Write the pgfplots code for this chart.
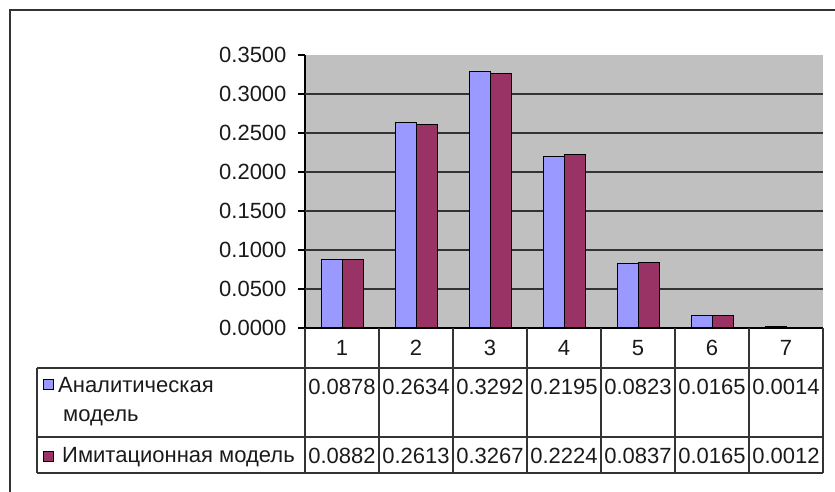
\documentclass[border=0pt]{standalone}
\usepackage{pgfplots}
\usepackage{pgfplotstable}
\pgfplotsset{compat=1.18}
\usepackage{fontspec}
\setmainfont{Liberation Sans}
\definecolor{serA}{HTML}{9999FF}
\definecolor{serB}{HTML}{993366}
\definecolor{plotbg}{HTML}{C0C0C0}
\definecolor{linec}{HTML}{333333}
\definecolor{txt}{HTML}{1A1A1A}

\pgfplotstableread{
cat anal imit
1 0.0878 0.0882
2 0.2634 0.2613
3 0.3292 0.3267
4 0.2195 0.2224
5 0.0823 0.0837
6 0.0165 0.0165
7 0.0014 0.0012
}\datatable

\begin{document}
\fontsize{22bp}{26bp}\selectfont
\begin{tikzpicture}[font=\fontsize{22bp}{26bp}\selectfont, text=txt]
\path[use as bounding box] (0,0) rectangle (835bp,492bp);
\begin{axis}[
  at={(305bp,164bp)}, anchor=south west,
  scale only axis, width=518bp, height=273bp,
  xmin=0.5, xmax=7.5, ymin=0, ymax=0.35,
  ybar=0pt, bar width=21bp,
  axis lines*=left,
  axis background/.style={fill=plotbg},
  xtick=\empty,
  ytick={0,0.05,0.1,0.15,0.2,0.25,0.3,0.35},
  yticklabel style={font=\fontsize{22bp}{26bp}\selectfont, text=txt, xshift=-4bp, /pgf/number format/.cd, fixed, fixed zerofill, precision=4, assume math mode=true},
  tick align=outside, major tick length=7bp,
  tick style={black, line width=1.2bp},
  extra y ticks={0.05,0.1,0.15,0.2,0.25,0.3},
  extra y tick labels={},
  extra y tick style={grid=major, major tick length=0pt, major grid style={linec, line width=1.6bp}},
  axis line style={black, line width=1.2bp},
  clip=false
]
\addplot[fill=serA, draw=black, line width=1bp] table[x=cat,y=anal]{\datatable};
\addplot[fill=serB, draw=black, line width=1bp] table[x=cat,y=imit]{\datatable};
\end{axis}
\begin{scope}[yshift=492bp, x=1bp, y=-1bp]
  \draw[linec, line width=1.6bp] (10,492) -- (10,10) -- (835,10);
  \draw[linec, line width=1.5bp] (37,368) -- (823,368) (37,437) -- (823,437) (37,473) -- (823,473) (37,368) -- (37,473);
  \foreach \k in {0,...,7} \draw[linec, line width=1.5bp] (305+74*\k,328) -- (305+74*\k,473);
  \foreach \k in {1,...,7} \node at (268+74*\k,348) {\k};
  \foreach \k in {0,...,6} {
    \pgfplotstablegetelem{\k}{anal}\of\datatable
    \node at (342+74*\k,387) {\pgfmathprintnumber[fixed,fixed zerofill,precision=4,assume math mode=true]{\pgfplotsretval}};
    \pgfplotstablegetelem{\k}{imit}\of\datatable
    \node at (342+74*\k,456) {\pgfmathprintnumber[fixed,fixed zerofill,precision=4,assume math mode=true]{\pgfplotsretval}};
  }
  \draw[fill=serA, draw=black, line width=0.8bp] (43,379) rectangle (53,389);
  \draw[fill=serB, draw=black, line width=0.8bp] (43,451) rectangle (53,461);
  \node[anchor=west, inner sep=0pt] at (58,385) {Аналитическая};
  \node[anchor=west, inner sep=0pt] at (63,418) {модель};
  \node[anchor=west, inner sep=0pt] at (62,457) {Имитационная модель};
\end{scope}
\end{tikzpicture}
\end{document}
